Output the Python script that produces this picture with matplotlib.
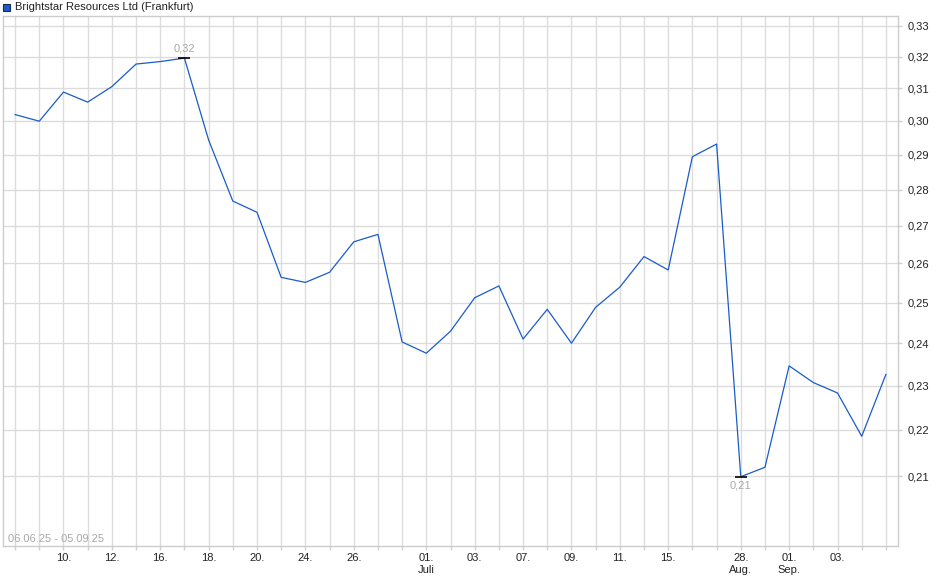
import matplotlib
matplotlib.use("Agg")
import matplotlib.pyplot as plt
from matplotlib.ticker import FixedLocator, FixedFormatter, NullFormatter

plt.rcParams['font.family'] = ['Liberation Sans', 'DejaVu Sans']

# closing prices, one per trading day (Frankfurt), 06.06.25 - 05.09.25
prices = [0.3019, 0.2999, 0.3088, 0.3057, 0.3105, 0.3176, 0.3184, 0.3195,
          0.2943, 0.2768, 0.2737, 0.2564, 0.2551, 0.2577, 0.2657, 0.2677,
          0.2403, 0.2376, 0.2429, 0.2512, 0.2542, 0.2410, 0.2483, 0.2400,
          0.2488, 0.2539, 0.2618, 0.2583, 0.2894, 0.2931, 0.2099, 0.2119,
          0.2346, 0.2307, 0.2283, 0.2186, 0.2326]

# x tick labels (index of trading day -> label)
tick_idx = [2, 4, 6, 8, 10, 12, 14, 17, 19, 21, 23, 25, 27, 30, 32, 34]
tick_txt = ['10.', '12.', '16.', '18.', '20.', '24.', '26.', '01.\nJuli',
            '03.', '07.', '09.', '11.', '15.', '28.\nAug.', '01.\nSep.', '03.']

y_ticks = [0.21, 0.22, 0.23, 0.24, 0.25, 0.26, 0.27, 0.28, 0.29, 0.30,
           0.31, 0.32, 0.33]
y_labels = ['0,21', '0,22', '0,23', '0,24', '0,25', '0,26', '0,27', '0,28',
            '0,29', '0,30', '0,31', '0,32', '0,33']

title = 'Brightstar Resources Ltd (Frankfurt)'
period = '06.06.25 - 05.09.25'

fig = plt.figure(figsize=(9.4, 5.79), dpi=100)
ax = fig.add_axes([3 / 940, 33 / 579, 895 / 940, 530 / 579])

x = list(range(len(prices)))
ax.plot(x, prices, color='#1a5cc8', linewidth=0.9, zorder=3)

ax.set_yscale('log')
ax.set_ylim(0.1958, 0.3333)
ax.set_xlim(-0.5, len(prices) - 0.5)

ax.yaxis.set_major_locator(FixedLocator(y_ticks))
ax.yaxis.set_major_formatter(FixedFormatter(y_labels))
ax.yaxis.set_minor_locator(FixedLocator([]))
ax.yaxis.set_minor_formatter(NullFormatter())
ax.yaxis.tick_right()

labels = [''] * len(prices)
for i, t in zip(tick_idx, tick_txt):
    labels[i] = t
ax.set_xticks(x)
ax.set_xticklabels(labels, va='top', linespacing=1.25)

ax.grid(True, color='#dcdcdc', linewidth=1)
ax.set_axisbelow(True)
ax.tick_params(axis='both', colors='#d0d0d0', labelcolor='#222222',
               labelsize=8, length=3, width=1)
ax.tick_params(axis='x', pad=2)
ax.tick_params(axis='y', pad=4)
for s in ax.spines.values():
    s.set_color('#cccccc')
    s.set_linewidth(1)

# max / min markers
imax = prices.index(max(prices))
imin = prices.index(min(prices))
ax.plot([imax, imin], [prices[imax], prices[imin]], linestyle='none',
        marker='_', markersize=9, markeredgewidth=1.2, color='black', zorder=4)
ax.annotate('0,32', (imax, prices[imax]), xytext=(0, 3),
            textcoords='offset points', ha='center', va='bottom',
            fontsize=8, color='#a8a8a8')
ax.annotate('0,21', (imin, prices[imin]), xytext=(0, -3),
            textcoords='offset points', ha='center', va='top',
            fontsize=8, color='#a8a8a8')

ax.text(0.006, 0.004, period, transform=ax.transAxes, fontsize=8,
        color='#a8a8a8', ha='left', va='bottom')

# legend-like header
fig.patches.append(plt.Rectangle((3 / 940, 1 - 11 / 579), 7 / 940, 7 / 579,
                                 transform=fig.transFigure,
                                 facecolor='#1a5cc8', edgecolor='#1a2a50',
                                 linewidth=0.8))
fig.text(15 / 940, 1 - 6.5 / 579, title, fontsize=8, color='#222222',
         ha='left', va='center')

fig.savefig('out.png', dpi=100)
